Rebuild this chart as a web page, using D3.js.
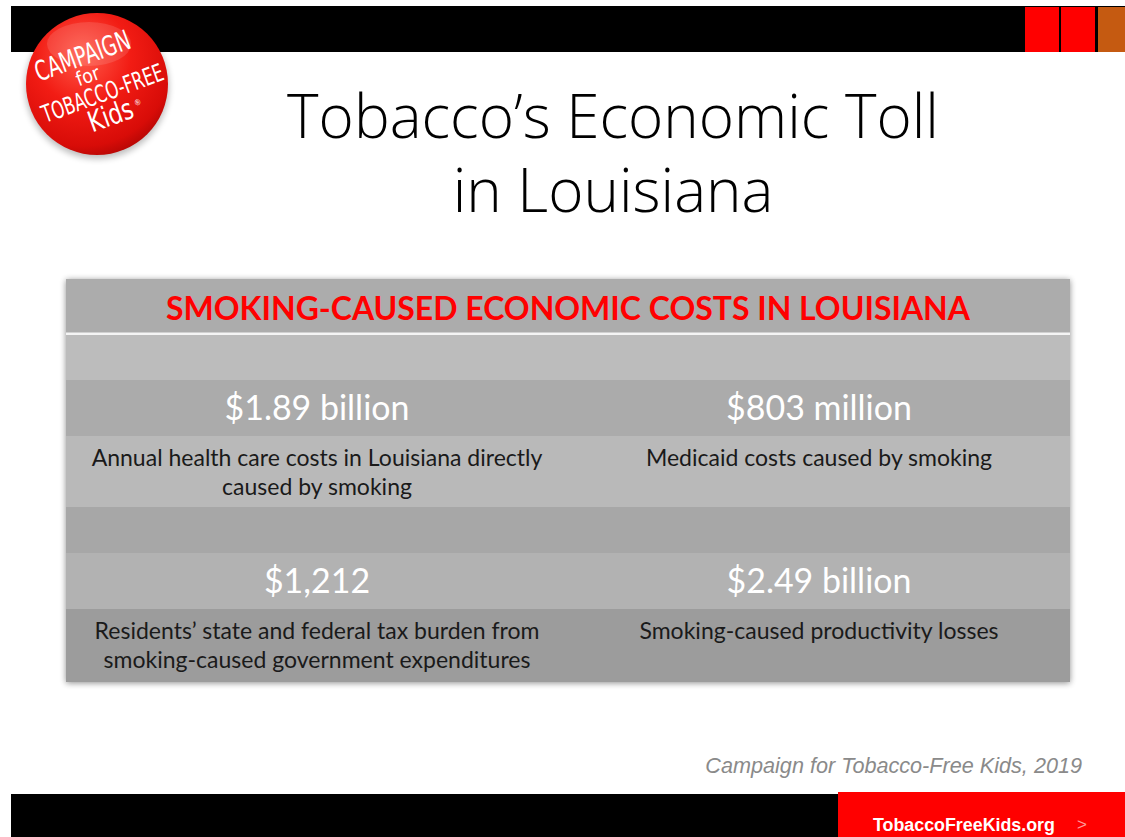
<!DOCTYPE html>
<html>
<head>
<meta charset="utf-8">
<script src="https://cdn.jsdelivr.net/npm/d3@7"></script>
<style>
  body { margin: 0; background: #fff; }
  svg { display: block; }
</style>
</head>
<body>
<div class="graph"></div>
<script>
// slide content
var titleLines = ['Tobacco\u2019s Economic Toll', 'in Louisiana'];
var tableTitle = 'SMOKING-CAUSED ECONOMIC COSTS IN LOUISIANA';
var costValues = ['$1.89 billion', '$803 million', '$1,212', '$2.49 billion'];
var costLabels = [
  ['Annual health care costs in Louisiana directly', 'caused by smoking'],
  ['Medicaid costs caused by smoking'],
  ['Residents\u2019 state and federal tax burden from', 'smoking-caused government expenditures'],
  ['Smoking-caused productivity losses']
];
var rowKinds = ['header', 'blank', 'value', 'label', 'blank', 'value', 'label'];
var rowFills = ['#acacac', '#bcbcbc', '#ababab', '#b9b9b9', '#a7a7a7', '#b2b2b2', '#9c9c9c'];
var source = 'Campaign for Tobacco-Free Kids, 2019';
var site = 'TobaccoFreeKids.org';

var width = 1125, height = 837;
var svg = d3.select('.graph').append('svg')
    .attr('width', width)
    .attr('height', height);

var defs = svg.append('defs');

var shadow = defs.append('filter').attr('id', 'shadow')
    .attr('x', -0.05).attr('y', -0.05).attr('width', 1.1).attr('height', 1.1);
shadow.append('feGaussianBlur').attr('in', 'SourceAlpha').attr('stdDeviation', 3);
shadow.append('feOffset').attr('dx', 0).attr('dy', 1).attr('result', 'b');
shadow.append('feComponentTransfer').append('feFuncA').attr('type', 'linear').attr('slope', 0.45);
var merge = shadow.append('feMerge');
merge.append('feMergeNode');
merge.append('feMergeNode').attr('in', 'SourceGraphic');

var ball = defs.append('radialGradient').attr('id', 'ball')
    .attr('cx', '40%').attr('cy', '30%').attr('r', '75%');
ball.append('stop').attr('offset', '0%').attr('stop-color', '#ff5a4a');
ball.append('stop').attr('offset', '45%').attr('stop-color', '#f21c14');
ball.append('stop').attr('offset', '85%').attr('stop-color', '#d80c08');
ball.append('stop').attr('offset', '100%').attr('stop-color', '#b00604');

// fit a text element's font size to a target width
function fit(sel, target, start) {
  sel.style('font-size', start + 'px');
  var w = sel.node().getComputedTextLength();
  var size = start * target / w;
  sel.style('font-size', size + 'px');
  return size;
}

// top bar
svg.append('rect').attr('x', 11).attr('y', 6).attr('width', width - 11).attr('height', 46).attr('fill', '#000');
var squares = [{x: 1025, c: '#ff0000'}, {x: 1061, c: '#ff0000'}, {x: 1098, c: '#c55a11'}];
svg.selectAll('.sq').data(squares).enter().append('rect')
    .attr('x', function (d) { return d.x; })
    .attr('y', 7).attr('width', function (d, i) { return i === 2 ? 27 : 34; }).attr('height', 45)
    .attr('fill', function (d) { return d.c; });

// bottom bar
svg.append('rect').attr('x', 11).attr('y', 794).attr('width', width - 11).attr('height', 43).attr('fill', '#000');
svg.append('rect').attr('x', 838).attr('y', 792).attr('width', width - 838).attr('height', 45).attr('fill', '#ff0000');
var siteText = svg.append('text').attr('x', 873).attr('y', 831)
    .attr('font-family', 'Liberation Sans, Arial, sans-serif').attr('font-weight', 'bold')
    .attr('fill', '#fff').text(site);
fit(siteText, 182, 19);
svg.append('text').attr('x', 1077).attr('y', 830)
    .attr('font-family', 'Liberation Sans, Arial, sans-serif').attr('font-size', 17)
    .attr('fill', '#ff9a9a').text('>');

// logo
var logo = svg.append('g').attr('transform', 'translate(97,84)');
logo.append('circle').attr('r', 72).attr('cy', 3).attr('fill', '#000').attr('opacity', 0.25)
    .style('filter', 'blur(3px)');
logo.append('circle').attr('r', 71).attr('fill', 'url(#ball)');
logo.append('ellipse').attr('cx', -8).attr('cy', -40).attr('rx', 42).attr('ry', 22)
    .attr('fill', '#fff').attr('opacity', 0.12);
var logoText = logo.append('g').attr('transform', 'rotate(-20)')
    .attr('font-family', 'DejaVu Sans Condensed, DejaVu Sans, sans-serif')
    .attr('fill', '#fff').attr('text-anchor', 'middle');
var logoLines = [
  { t: 'CAMPAIGN', x: -4, y: -22, w: 100, s: 24 },
  { t: 'for', x: -6, y: -4, w: 24, s: 17 },
  { t: 'TOBACCO-FREE', x: 2, y: 19, w: 128, s: 21 },
  { t: 'Kids', x: 2, y: 44, w: 46, s: 25 }
];
logoLines.forEach(function (l) {
  var t = logoText.append('text').attr('x', l.x).attr('y', l.y).text(l.t);
  var s = fit(t, l.w, l.s);
  t.attr('transform', 'translate(' + l.x + ',' + l.y + ') scale(1,' + (l.s * 1.15 / s) + ') translate(' + (-l.x) + ',' + (-l.y) + ')');
});
logoText.append('text').attr('x', 32).attr('y', 34).attr('font-size', 8).text('\u00ae');

// title
var titleSel = svg.selectAll('.title').data(titleLines).enter().append('text')
    .attr('class', 'title')
    .attr('x', 613)
    .attr('y', function (d, i) { return 138 + i * 74; })
    .attr('text-anchor', 'middle')
    .attr('font-family', 'Open Sans, sans-serif')
    .attr('font-weight', 300)
    .attr('fill', '#000')
    .text(function (d) { return d; });
var titleSize = fit(d3.select(titleSel.nodes()[0]), 652, 60);
titleSel.style('font-size', titleSize + 'px');

// table
var rowEdges = [279, 334, 380, 436, 507, 553, 609, 682];
var tableX = 66, tableW = 1004;
var col = d3.scaleBand().domain([0, 1]).range([tableX, tableX + tableW]);

var table = svg.append('g');
table.append('rect').attr('x', tableX).attr('y', rowEdges[0])
    .attr('width', tableW).attr('height', rowEdges[7] - rowEdges[0])
    .attr('fill', '#aaa').style('filter', 'url(#shadow)');
table.selectAll('.row').data(rowKinds).enter().append('rect')
    .attr('class', 'row')
    .attr('x', tableX)
    .attr('y', function (d, i) { return rowEdges[i]; })
    .attr('width', tableW)
    .attr('height', function (d, i) { return rowEdges[i + 1] - rowEdges[i]; })
    .attr('fill', function (d, i) { return rowFills[i]; });
table.append('rect').attr('x', tableX).attr('y', 332.5).attr('width', tableW).attr('height', 2.5).attr('fill', '#f4f4f4');

var head = table.append('text').attr('x', 568).attr('y', 320)
    .attr('text-anchor', 'middle')
    .attr('font-family', 'Lato, sans-serif').attr('font-weight', 'bold')
    .attr('fill', '#ff0000').text(tableTitle);
fit(head, 804, 34);

// value cells: 2 per value row
var valueRows = [2, 5];
var labelRows = [3, 6];
var cells = costValues.map(function (v, i) {
  return { value: v, label: costLabels[i], col: i % 2, block: Math.floor(i / 2) };
});

var valSel = table.selectAll('.val').data(cells).enter().append('text')
    .attr('class', 'val')
    .attr('x', function (d) { return col(d.col) + col.bandwidth() / 2; })
    .attr('y', function (d) { return rowEdges[valueRows[d.block]] + 40; })
    .attr('text-anchor', 'middle')
    .attr('font-family', 'Lato, sans-serif')
    .attr('fill', '#fff')
    .text(function (d) { return d.value; });
var valSize = fit(d3.select(valSel.nodes()[0]), 185, 30);
valSel.style('font-size', valSize + 'px');

var labSel = table.selectAll('.lab').data(cells).enter().append('text')
    .attr('class', 'lab')
    .attr('text-anchor', 'middle')
    .attr('font-family', 'Lato, sans-serif')
    .attr('fill', '#1a1a1a');
labSel.selectAll('tspan').data(function (d) {
    return d.label.map(function (t) { return { t: t, d: d }; });
  }).enter().append('tspan')
    .attr('x', function (e) { return col(e.d.col) + col.bandwidth() / 2; })
    .attr('y', function (e, j) { return rowEdges[labelRows[e.d.block]] + 30 + j * 29; })
    .text(function (e) { return e.t; });
var labSize = fit(d3.select(labSel.nodes()[0]).select('tspan'), 451, 21);
labSel.style('font-size', labSize + 'px');

// source
var src = svg.append('text').attr('x', 1082).attr('y', 773)
    .attr('text-anchor', 'end')
    .attr('font-family', 'Liberation Sans, Arial, sans-serif')
    .attr('font-style', 'italic')
    .attr('fill', '#8a8a8a')
    .text(source);
fit(src, 377, 20);
</script>
</body>
</html>
